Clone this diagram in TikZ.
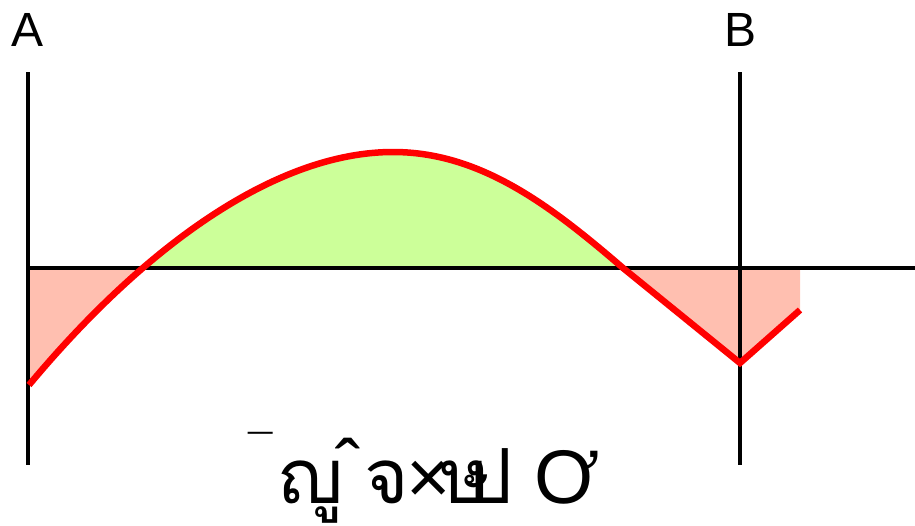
\documentclass[tikz,border=0pt]{standalone}
\usepackage{fontspec}
\setmainfont{Liberation Sans}
\newfontfamily\thaifont[Script=Thai]{Loma}
\usetikzlibrary{calc}
\definecolor{curvered}{HTML}{FF0000}
\definecolor{posgreen}{HTML}{CCFF99}
\definecolor{negpink}{HTML}{FFBFB0}
\tikzset{
  axis/.style={draw=black, line width=3.2pt},
  curve/.style={draw=curvered, line width=6.5pt},
  lbl/.style={font=\fontsize{48}{50}\selectfont, inner sep=0pt},
  formula/.style={font=\fontsize{76}{80}\selectfont, inner sep=0pt, anchor=base},
}
\begin{document}
\begin{tikzpicture}[x=1pt,y=-1pt]
  \useasboundingbox (0,0) rectangle (915,525);
  % area between curve and axis
  \def\areapath{(29,268) -- (29,385) .. controls (150,240) and (280,152) .. (393,152)
    .. controls (480,152) and (550,205) .. (623,268) -- (740,363) -- (800,310) -- (800,268) -- cycle}
  \begin{scope}
    \clip (0,0) rectangle (915,268);
    \fill[posgreen] \areapath;
  \end{scope}
  \begin{scope}
    \clip (0,268) rectangle (915,525);
    \fill[negpink] \areapath;
  \end{scope}
  % axes
  \coordinate (a top) at (28,72);
  \coordinate (a bot) at (28,465);
  \coordinate (b top) at (740,72);
  \coordinate (b bot) at (740,465);
  \coordinate (x left) at (28,268);
  \coordinate (x right) at (915,268);
  \draw[axis] (a top) -- (a bot);
  \draw[axis] (b top) -- (b bot);
  \draw[axis] (x left) -- (x right);
  % the curve
  \draw[curve, line join=miter] (29,385) .. controls (150,240) and (280,152) .. (393,152)
    .. controls (480,152) and (550,205) .. (623,268) -- (740,363) -- (800,310);
  % labels
  \node[lbl] (lblA) at (28,30) {A};
  \node[lbl] (lblB) at (740,30) {B};
  \node[formula] (fml) at (424,503)
    {\raisebox{0.5em}{\fontsize{44}{44}\selectfont ¯}\kern6pt{\thaifont ญู}\kern-8pt\raisebox{0.12em}{ˆ}\kern4pt{\thaifont จ}\kern-3pt×\kern-10pt{\thaifont ษ\kern-26pt ป}\kern22pt Ơ};
\end{tikzpicture}
\end{document}
